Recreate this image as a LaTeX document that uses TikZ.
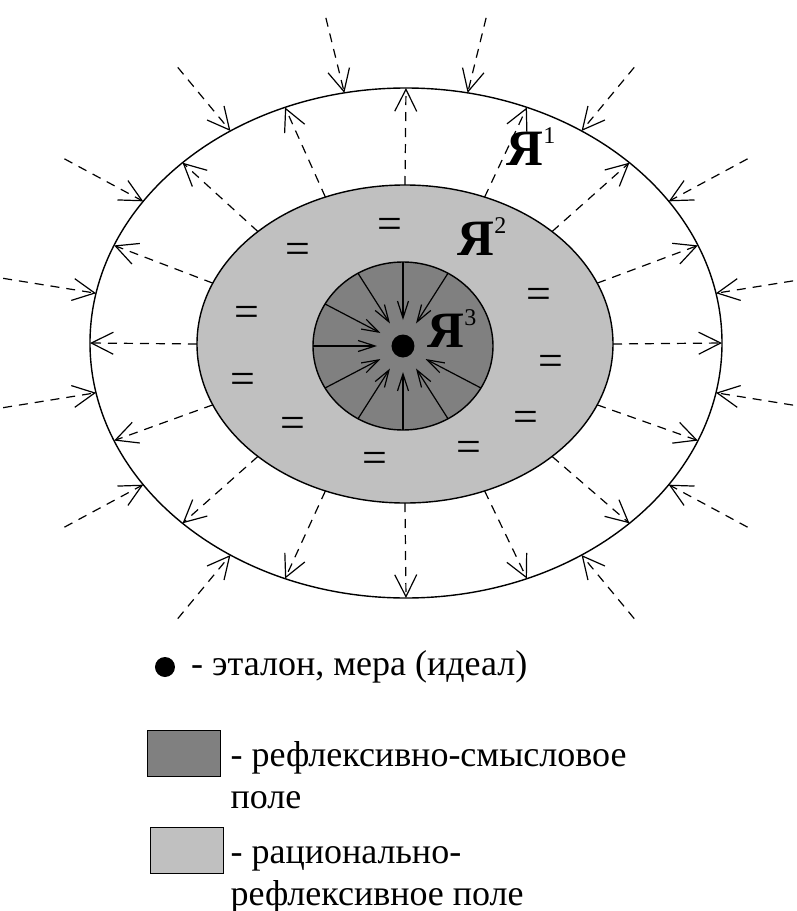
\documentclass[tikz,border=0pt]{standalone}
\usepackage{fontspec}
\setmainfont{Liberation Serif}
\usepackage{tikz}
\definecolor{mylightgray}{RGB}{192,192,192}
\definecolor{mydarkgray}{RGB}{128,128,128}
\usetikzlibrary{arrows.meta,positioning,calc}

\newcommand{\yanum}[1]{\raisebox{22pt}{\fontsize{24}{24}\selectfont\mdseries #1}}

\begin{document}
\begin{tikzpicture}[
  x=1pt, y=1pt,
  line width=1.2pt,
  ringline/.style={
    draw,
    line width=1.4pt
    },
  outray/.style={
    dash pattern=on 9pt off 7pt,
    -{Straight Barb[length=22pt,width=22pt]}
    },
  coreray/.style={
    -{Straight Barb[length=17pt,width=11pt]}
    },
  eqsign/.style={
    inner sep=0pt,
    font=\fontsize{44}{44}\selectfont
    },
  yalabel/.style={
    anchor=base west,
    inner sep=0pt,
    font=\fontsize{51}{51}\selectfont\bfseries
    },
  legendtext/.style={
    align=left,
    inner sep=0pt,
    font=\fontsize{36}{42}\selectfont
    },
  legendbox/.style={
    draw,
    line width=1.4pt,
    minimum width=73pt,
    minimum height=46pt,
    inner sep=0pt,
    anchor=north west
    }
]
\useasboundingbox (-406,-568) rectangle (390,343);

\draw[ringline, fill=white] (0,0) ellipse [x radius=316pt, y radius=255pt];

\foreach \Angulo [count=\i] in {0,22.5,...,337.5} {
  \path ({-1+208*cos(\Angulo)},{-1+159*sin(\Angulo)}) coordinate (mid\i)
        ({316*cos(\Angulo)},{255*sin(\Angulo)}) coordinate (rim\i);
  \draw[outray] (mid\i) -- (rim\i);
}

\foreach \Angulo [count=\i] in {11.25,33.75,56.25,78.75,101.25,123.75,146.25,168.75,191.25,213.75,236.25,303.75,326.25,348.75} {
  \path ({1.3*316*cos(\Angulo)},{1.3*255*sin(\Angulo)}) coordinate (far\i)
        ({316*cos(\Angulo)},{255*sin(\Angulo)}) coordinate (edge\i);
  \draw[outray] (far\i) -- (edge\i);
}

\draw[ringline, fill=mylightgray] (-1,-1) ellipse [x radius=208pt, y radius=159pt];
\draw[ringline, fill=mydarkgray] (-3,-3) ellipse [x radius=90pt, y radius=84pt];

\foreach \Angulo [count=\i] in {60,90,...,330} {
  \path ({-3+90*cos(\Angulo)},{-3+84*sin(\Angulo)}) coordinate (core\i)
        ({-3+26*cos(\Angulo)},{-3+26*sin(\Angulo)}) coordinate (star\i);
  \draw[coreray] (core\i) -- (star\i);
}

\fill (-3,-3) circle [radius=11.5pt];

\foreach \X/\Y [count=\i] in {-16/115, -108/90, -159/27, -163/-40, -113/-84, -31/-119, 63/-108, 120/-78, 145/-22, 133/45}
  \node[eqsign] (eq\i) at (\X,\Y) {=};

\node[yalabel] (ya1) at (100,178) {Я\yanum{1}};
\node[yalabel] (ya2) at (51,88) {Я\yanum{2}};
\node[yalabel] (ya3) at (21,-4) {Я\yanum{3}};

\node[circle, fill=black, inner sep=0pt, minimum size=20pt] (etalondot) at (-241,-324) {};
\node[legendtext, right=15pt of etalondot] (etalontext) {- эталон, мера (идеал)};

\node[legendbox, fill=mydarkgray] (darkbox) at (-259,-387) {};
\node[legendtext, anchor=base west] (darktext) at (-176,-465) {- рефлексивно-смысловое\\поле};

\node[legendbox, fill=mylightgray] (lightbox) at (-256,-484) {};
\node[legendtext, anchor=base west] (lighttext) at (-176,-562) {- рационально-\\рефлексивное поле};
\end{tikzpicture}
\end{document}
